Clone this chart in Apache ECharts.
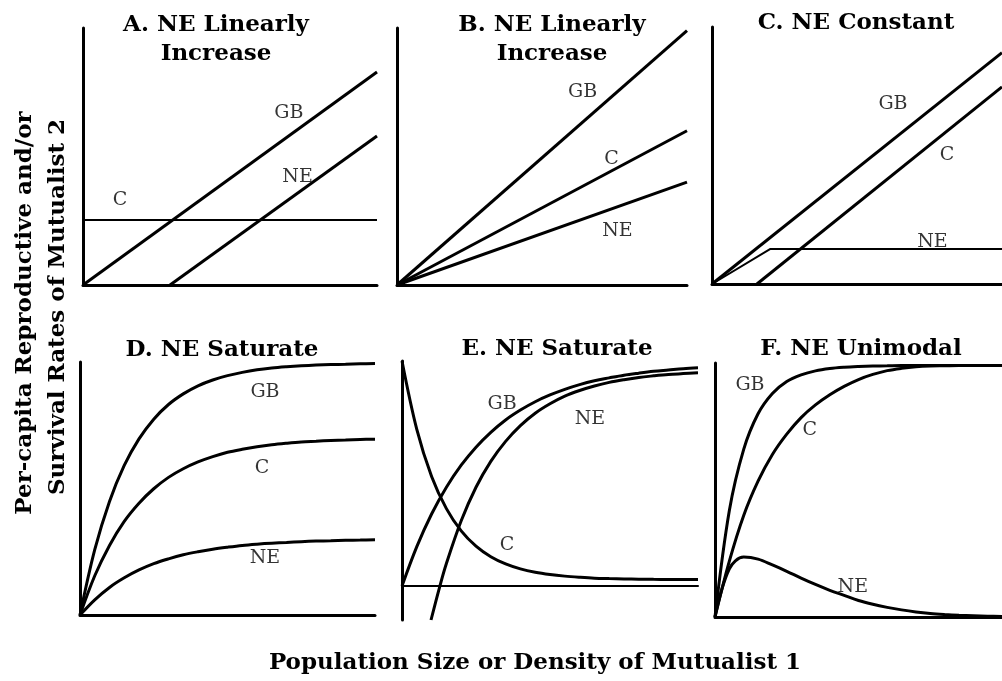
<!DOCTYPE html>
<html lang="en">
<head>
    <meta charset="UTF-8">
    <title>Mutualism benefit curves</title>
    <script src="https://cdn.jsdelivr.net/npm/echarts@6/dist/echarts.min.js"></script>
    <style type="text/css">
        html, body { margin: 0; padding: 0; background: #fff; }
        #chart { width: 1002px; height: 681px; }
    </style>
</head>
<body>
<div id="chart"></div>
<script type="text/javascript">
    // A. NE linearly increase (straight lines)
    var aGBx = [0, 1],      aGB = [0, 0.829];
    var aNEx = [0.296, 1],  aNE = [0, 0.58];
    var aCx  = [0, 1],      aC  = [0.253, 0.253];
    var aLabels = [['GB', 0.70, 0.67], ['NE', 0.73, 0.42], ['C', 0.126, 0.33]];

    // B. NE linearly increase
    var bX = [0, 1];
    var bGB = [0, 0.99];
    var bC  = [0, 0.60];
    var bNE = [0, 0.40];
    var bLabels = [['GB', 0.64, 0.75], ['C', 0.74, 0.49], ['NE', 0.76, 0.21]];

    // C. NE constant
    var cGBx = [0, 1],         cGB = [0, 0.90];
    var cCx  = [0.155, 1],     cC  = [0, 0.767];
    var cNEx = [0, 0.2, 1],    cNE = [0, 0.136, 0.136];
    var cLabels = [['GB', 0.624, 0.70], ['C', 0.81, 0.50], ['NE', 0.76, 0.163]];

    // shared x grid for the curved panels
    var steps = [0, 0.05, 0.1, 0.15, 0.2, 0.25, 0.3, 0.35, 0.4, 0.45, 0.5,
                 0.55, 0.6, 0.65, 0.7, 0.75, 0.8, 0.85, 0.9, 0.95, 1.0];

    // D. NE saturate
    var dGB = [0, 0.258, 0.449, 0.591, 0.696, 0.774, 0.832, 0.874, 0.906, 0.929, 0.946,
               0.959, 0.969, 0.976, 0.981, 0.985, 0.988, 0.990, 0.991, 0.993, 0.994];
    var dC  = [0, 0.155, 0.275, 0.37, 0.442, 0.499, 0.544, 0.578, 0.605, 0.626, 0.643,
               0.655, 0.665, 0.673, 0.679, 0.684, 0.687, 0.690, 0.692, 0.694, 0.695];
    var dNE = [0, 0.06, 0.109, 0.147, 0.178, 0.203, 0.222, 0.238, 0.25, 0.26, 0.268,
               0.275, 0.28, 0.284, 0.287, 0.29, 0.292, 0.293, 0.295, 0.296, 0.297];
    var dLabels = [['GB', 0.627, 0.88], ['C', 0.617, 0.58], ['NE', 0.627, 0.225]];

    // E. NE saturate (NE starts below zero)
    var eGB  = [0, 0.175, 0.32, 0.439, 0.537, 0.617, 0.683, 0.738, 0.782, 0.819, 0.849,
                0.874, 0.895, 0.912, 0.925, 0.937, 0.946, 0.954, 0.96, 0.966, 0.97];
    var eC   = [1.0, 0.696, 0.487, 0.344, 0.245, 0.177, 0.13, 0.098, 0.076, 0.061, 0.051,
                0.044, 0.039, 0.035, 0.033, 0.0315, 0.0304, 0.0297, 0.0292, 0.0288, 0.0285];
    var eNEx = [0.098, 0.128, 0.15, 0.2, 0.25, 0.3, 0.35, 0.4, 0.45, 0.5,
                0.55, 0.6, 0.65, 0.7, 0.75, 0.8, 0.85, 0.9, 0.95, 1.0];
    var eNE  = [-0.151, 0, 0.10, 0.29, 0.439, 0.554, 0.643, 0.713, 0.768, 0.81,
                0.844, 0.869, 0.889, 0.905, 0.917, 0.927, 0.934, 0.94, 0.944, 0.948];
    var eLabels = [['GB', 0.338, 0.81], ['NE', 0.635, 0.74], ['C', 0.355, 0.18]];

    // F. NE unimodal
    var fGB = [0, 0.419, 0.66, 0.80, 0.88, 0.927, 0.953, 0.969, 0.978, 0.983, 0.986,
               0.988, 0.989, 0.99, 0.99, 0.99, 0.99, 0.99, 0.99, 0.99, 0.99];
    var fC  = [0, 0.22, 0.40, 0.535, 0.64, 0.72, 0.785, 0.835, 0.875, 0.908, 0.935,
               0.955, 0.97, 0.979, 0.985, 0.988, 0.989, 0.99, 0.99, 0.99, 0.99];
    var fNE = [0, 0.19, 0.236, 0.228, 0.205, 0.18, 0.153, 0.128, 0.105, 0.085, 0.065,
               0.05, 0.038, 0.028, 0.02, 0.014, 0.01, 0.007, 0.005, 0.003, 0.002];
    var fLabels = [['GB', 0.122, 0.913], ['C', 0.33, 0.736], ['NE', 0.48, 0.118]];

    var titles = [
        ['A. NE Linearly', 216, 25], ['Increase', 216, 54],
        ['B. NE Linearly', 552, 25], ['Increase', 552, 54],
        ['C. NE Constant', 856, 23],
        ['D. NE Saturate', 222, 350],
        ['E. NE Saturate', 557, 349],
        ['F. NE Unimodal', 861, 349]
    ];
    var yTitle = ['Per-capita Reproductive and/or', 'Survival Rates of Mutualist 2'];
    var xTitle = 'Population Size or Density of Mutualist 1';

    var SERIF = '"DejaVu Serif", "Liberation Serif", serif';

    function zip(xs, ys) {
        return xs.map(function (x, i) { return [x, ys[i]]; });
    }

    var grids = [
        {left: 83,  top: 28,  width: 294, height: 257},
        {left: 397, top: 28,  width: 290, height: 257},
        {left: 712, top: 27,  width: 290, height: 257},
        {left: 80,  top: 362, width: 295, height: 253},
        {left: 402, top: 361, width: 296, height: 259},
        {left: 715, top: 363, width: 287, height: 254}
    ];
    var yRanges = [[0, 1], [0, 1], [0, 1], [0, 1], [-0.151, 1], [0, 1]];

    var xAxes = [], yAxes = [];
    grids.forEach(function (g, i) {
        xAxes.push({
            gridIndex: i, type: 'value', min: 0, max: 1,
            axisLine: {show: true, onZero: true, lineStyle: {color: '#000', width: i === 4 ? 2 : 3}},
            axisTick: {show: false}, axisLabel: {show: false}, splitLine: {show: false}
        });
        yAxes.push({
            gridIndex: i, type: 'value', min: yRanges[i][0], max: yRanges[i][1],
            axisLine: {show: true, onZero: false, lineStyle: {color: '#000', width: 3}},
            axisTick: {show: false}, axisLabel: {show: false}, splitLine: {show: false}
        });
    });

    var series = [];
    function curve(idx, data, width, smooth) {
        series.push({
            type: 'line', xAxisIndex: idx, yAxisIndex: idx,
            data: data, showSymbol: false, silent: true,
            smooth: smooth ? 0.35 : false,
            lineStyle: {color: '#000', width: width}
        });
    }
    function labels(idx, list) {
        series.push({
            type: 'scatter', xAxisIndex: idx, yAxisIndex: idx, silent: true,
            symbolSize: 0,
            data: list.map(function (l) { return {name: l[0], value: [l[1], l[2]]}; }),
            label: {
                show: true, position: 'inside', formatter: '{b}',
                color: '#000', fontFamily: SERIF, fontSize: 19
            }
        });
    }

    curve(0, zip(aGBx, aGB), 3);
    curve(0, zip(aNEx, aNE), 3);
    curve(0, zip(aCx, aC), 2);
    labels(0, aLabels);

    curve(1, zip(bX, bGB), 3);
    curve(1, zip(bX, bC), 3);
    curve(1, zip(bX, bNE), 3);
    labels(1, bLabels);

    curve(2, zip(cGBx, cGB), 3);
    curve(2, zip(cCx, cC), 3);
    curve(2, zip(cNEx, cNE), 2);
    labels(2, cLabels);

    curve(3, zip(steps, dGB), 3, true);
    curve(3, zip(steps, dC), 3, true);
    curve(3, zip(steps, dNE), 3, true);
    labels(3, dLabels);

    curve(4, zip(steps, eGB), 3, true);
    curve(4, zip(steps, eC), 3, true);
    curve(4, zip(eNEx, eNE), 3, true);
    labels(4, eLabels);

    curve(5, zip(steps, fGB), 3, true);
    curve(5, zip(steps, fC), 3, true);
    curve(5, zip(steps, fNE), 3, true);
    labels(5, fLabels);

    var graphics = titles.map(function (t) {
        return {
            type: 'text', x: t[1], y: t[2], silent: true,
            style: {
                text: t[0], fill: '#000', font: 'bold 23px ' + SERIF,
                align: 'center', verticalAlign: 'middle',
                textAlign: 'center', textVerticalAlign: 'middle'
            }
        };
    });
    [[yTitle[0], 25, 313], [yTitle[1], 58, 307]].forEach(function (t) {
        graphics.push({
            type: 'text', x: t[1], y: t[2], rotation: Math.PI / 2, silent: true,
            style: {
                text: t[0], fill: '#000', font: 'bold 23px ' + SERIF,
                align: 'center', verticalAlign: 'middle',
                textAlign: 'center', textVerticalAlign: 'middle'
            }
        });
    });
    graphics.push({
        type: 'text', x: 535, y: 663, silent: true,
        style: {
            text: xTitle, fill: '#000', font: 'bold 23px ' + SERIF,
            align: 'center', verticalAlign: 'middle',
            textAlign: 'center', textVerticalAlign: 'middle'
        }
    });

    var chart = echarts.init(document.getElementById('chart'), null, {renderer: 'canvas'});
    chart.setOption({
        animation: false,
        backgroundColor: '#fff',
        grid: grids,
        xAxis: xAxes,
        yAxis: yAxes,
        series: series,
        graphic: graphics
    });
</script>
</body>
</html>
